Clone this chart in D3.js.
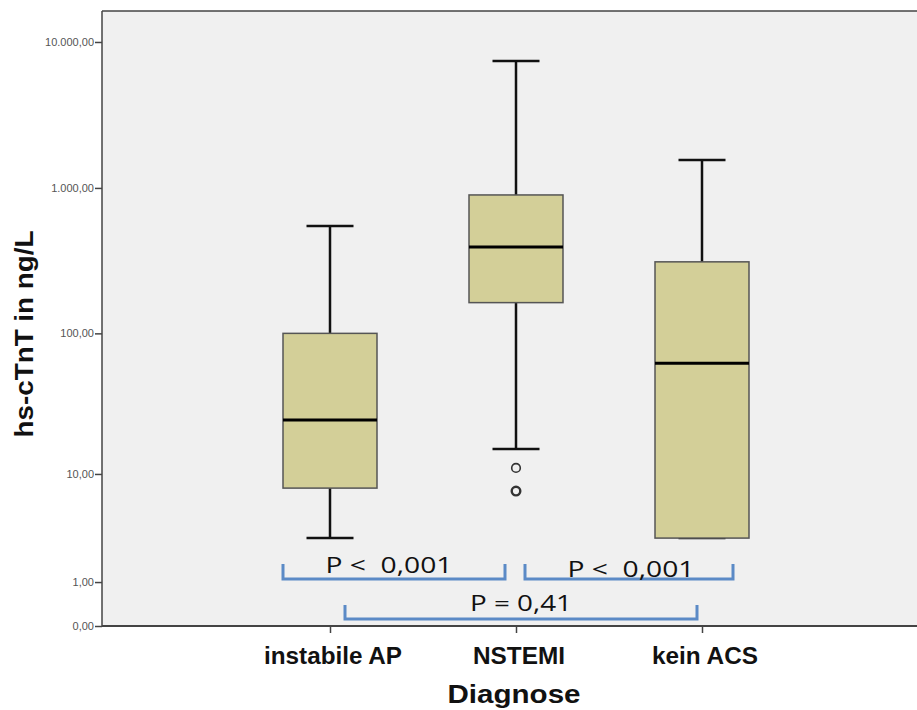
<!DOCTYPE html>
<html>
<head>
<meta charset="utf-8">
<script src="https://cdn.jsdelivr.net/npm/d3@7"></script>
<style>
  body { margin: 0; background: #fff; }
  svg { display: block; }
</style>
</head>
<body>
<svg id="chart" width="917" height="710"></svg>
<script>
// ---- data ----
const categories = ["instabile AP", "NSTEMI", "kein ACS"];
const whiskerLow  = [3.0, 15.3, 3.0];
const q1          = [7.8, 163, 3.0];
const median      = [24.8, 394, 62];
const q3          = [100, 895, 311];
const whiskerHigh = [548, 7400, 1556];
const outliers    = [[], [11.1, 7.4], []];
const yTickValues = [0, 1, 10, 100, 1000, 10000];
const yTickLabels = ["0,00", "1,00", "10,00", "100,00", "1.000,00", "10.000,00"];
const comparisons = [
  { from: 0, to: 1, label: "P <  0,001" },
  { from: 1, to: 2, label: "P <  0,001" },
  { from: 0, to: 2, label: "P = 0,41" }
];

// ---- layout ----
const svg = d3.select("#chart");
const plot = { left: 102, top: 11, right: 930, bottom: 626 };

const y = d3.scaleSymlog().constant(1).domain([0, 16300]).range([plot.bottom, plot.top]);
const x = d3.scalePoint().domain(categories).range([330, 702]);

// plot background
svg.append("rect")
  .attr("x", plot.left).attr("y", plot.top)
  .attr("width", plot.right - plot.left).attr("height", plot.bottom - plot.top)
  .attr("fill", "#f0f0f0");

// frame top
svg.append("line")
  .attr("x1", plot.left).attr("x2", plot.right)
  .attr("y1", plot.top).attr("y2", plot.top)
  .attr("stroke", "#444").attr("stroke-width", 1.5);

// y axis
const yAxis = d3.axisLeft(y).tickValues(yTickValues)
  .tickFormat((d, i) => yTickLabels[i]).tickSize(7).tickSizeOuter(0);
const gy = svg.append("g").attr("transform", `translate(${plot.left},0)`).call(yAxis);
gy.select(".domain").attr("stroke", "#444").attr("stroke-width", 1.5)
  .attr("d", `M0,${plot.top}V${plot.bottom}`);
gy.selectAll(".tick line").attr("stroke", "#444").attr("stroke-width", 1.5);
gy.selectAll(".tick text")
  .attr("font-family", "Liberation Sans, Arial, sans-serif")
  .attr("font-size", 11).attr("fill", "#555").attr("x", -8);

// x axis
const xAxis = d3.axisBottom(x).tickSize(7).tickSizeOuter(0).tickFormat("");
const gx = svg.append("g").attr("transform", `translate(0,${plot.bottom})`).call(xAxis);
gx.select(".domain").attr("stroke", "#444").attr("stroke-width", 2)
  .attr("d", `M${plot.left},0H${plot.right}`);
gx.selectAll(".tick line").attr("stroke", "#444").attr("stroke-width", 1.5);

// category labels
const catWidths = { "instabile AP": 138, "NSTEMI": 92, "kein ACS": 106 };
svg.append("g").selectAll("text").data(categories).join("text")
  .attr("x", d => x(d) + 3).attr("y", 664)
  .attr("text-anchor", "middle")
  .attr("font-family", "Liberation Sans, Arial, sans-serif")
  .attr("font-weight", "bold").attr("font-size", 23)
  .attr("textLength", d => catWidths[d]).attr("lengthAdjust", "spacingAndGlyphs")
  .attr("fill", "#111")
  .text(d => d);

// axis titles
svg.append("text")
  .attr("x", 514).attr("y", 703)
  .attr("text-anchor", "middle")
  .attr("font-family", "Liberation Sans, Arial, sans-serif")
  .attr("font-weight", "bold").attr("font-size", 26)
  .attr("textLength", 133).attr("lengthAdjust", "spacingAndGlyphs")
  .attr("fill", "#111").text("Diagnose");

svg.append("text")
  .attr("transform", "translate(33,334) rotate(-90)")
  .attr("text-anchor", "middle")
  .attr("font-family", "Liberation Sans, Arial, sans-serif")
  .attr("font-weight", "bold").attr("font-size", 25)
  .attr("textLength", 207).attr("lengthAdjust", "spacingAndGlyphs")
  .attr("fill", "#111").text("hs-cTnT in ng/L");

// boxplots
const boxW = 94, capW = 47;
const boxes = categories.map((c, i) => ({
  c, lo: whiskerLow[i], q1: q1[i], med: median[i], q3: q3[i], hi: whiskerHigh[i], out: outliers[i]
}));
const g = svg.append("g");
boxes.forEach(b => {
  const cx = x(b.c);
  g.append("line").attr("x1", cx).attr("x2", cx).attr("y1", y(b.q3)).attr("y2", y(b.hi))
    .attr("stroke", "#111").attr("stroke-width", 2.5);
  g.append("line").attr("x1", cx).attr("x2", cx).attr("y1", y(b.q1)).attr("y2", y(b.lo))
    .attr("stroke", "#111").attr("stroke-width", 2.5);
  g.append("line").attr("x1", cx - capW / 2).attr("x2", cx + capW / 2).attr("y1", y(b.hi)).attr("y2", y(b.hi))
    .attr("stroke", "#111").attr("stroke-width", 2.5);
  g.append("line").attr("x1", cx - capW / 2).attr("x2", cx + capW / 2).attr("y1", y(b.lo)).attr("y2", y(b.lo))
    .attr("stroke", "#111").attr("stroke-width", 2.5);
  g.append("rect").attr("x", cx - boxW / 2).attr("y", y(b.q3))
    .attr("width", boxW).attr("height", y(b.q1) - y(b.q3))
    .attr("fill", "#d3cf98").attr("stroke", "#555").attr("stroke-width", 1.5);
  g.append("line").attr("x1", cx - boxW / 2).attr("x2", cx + boxW / 2).attr("y1", y(b.med)).attr("y2", y(b.med))
    .attr("stroke", "#000").attr("stroke-width", 3);
  b.out.forEach((v, k) => {
    g.append("circle").attr("cx", cx).attr("cy", y(v)).attr("r", 4.3)
      .attr("fill", "none").attr("stroke", "#333").attr("stroke-width", k === 0 ? 1.6 : 2.4);
  });
});

// comparison brackets
const bracketColor = "#5b8ac6";
const brackets = [
  { x1: x(categories[0]) - 47, x2: x(categories[1]) - 11, top: 564, bot: 579, ty: 573, tw: 127, tx: 389 },
  { x1: x(categories[1]) + 9,  x2: x(categories[2]) + 31, top: 564, bot: 579, ty: 577, tw: 127, tx: 631 },
  { x1: x(categories[0]) + 15, x2: x(categories[2]) - 5,  top: 605, bot: 619, ty: 611, tw: 102, tx: 521 }
];
comparisons.forEach((cmp, i) => {
  const b = brackets[i];
  svg.append("path")
    .attr("d", `M${b.x1},${b.top}V${b.bot}H${b.x2}V${b.top}`)
    .attr("fill", "none").attr("stroke", bracketColor).attr("stroke-width", 3);
  svg.append("text")
    .attr("x", b.tx).attr("y", b.ty).attr("text-anchor", "middle")
    .style("white-space", "pre")
    .attr("font-family", "Open Sans, Liberation Sans, sans-serif")
    .attr("font-size", 21).attr("fill", "#111")
    .attr("textLength", b.tw).attr("lengthAdjust", "spacingAndGlyphs")
    .text(cmp.label);
});
</script>
</body>
</html>
